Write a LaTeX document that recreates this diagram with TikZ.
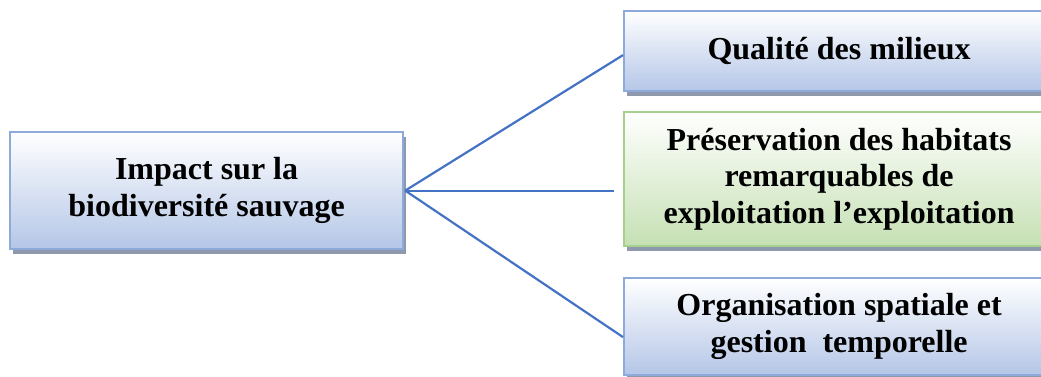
\documentclass[tikz,border=0pt]{standalone}
\usepackage{fontspec}
\setmainfont{Liberation Serif}
\usetikzlibrary{shadows}
\definecolor{bluebot}{HTML}{B4C6E7}
\definecolor{blueedge}{HTML}{8EAADB}
\definecolor{greenbot}{HTML}{C5E0B3}
\definecolor{greenedge}{HTML}{A8D08D}
\definecolor{shadowc}{HTML}{8E99AE}
\definecolor{linec}{HTML}{4472C4}
\tikzset{
  box/.style={rectangle, anchor=north west, line width=2.2pt, draw=blueedge,
    top color=white, bottom color=bluebot, align=center, inner sep=0pt,
    font=\fontsize{32}{36.5}\selectfont\bfseries,
    drop shadow={shadow xshift=3pt, shadow yshift=-5pt, fill=shadowc, opacity=1}},
  gbox/.style={box, draw=greenedge, bottom color=greenbot},
  link/.style={draw=linec, line width=2.2pt}
}
\begin{document}
\begin{tikzpicture}[x=1pt,y=-1pt]
\useasboundingbox (0,0) rectangle (1041,376);
\clip (0,0) rectangle (1041,376);
\node[box, minimum width=393pt, minimum height=117pt] (L) at (9,131)
  {Impact sur la\\biodiversité sauvage};
\node[box, minimum width=430pt, minimum height=80pt] (T) at (623,10)
  {Qualité des milieux};
\node[gbox, minimum width=430pt, minimum height=134pt] (M) at (623,111)
  {Préservation des habitats\\remarquables de\\exploitation l’exploitation};
\node[box, minimum width=430pt, minimum height=97pt] (B) at (623,277)
  {Organisation spatiale et\\gestion\ \ temporelle};
\coordinate (s) at ([xshift=1pt]L.east);
\coordinate (tEnd) at ([yshift=-4pt]T.west);
\coordinate (mEnd) at ([xshift=-9pt]M.west);
\coordinate (bEnd) at ([yshift=-10.5pt]B.west);
\draw[link] (s) -- (tEnd);
\draw[link] (s) -- (mEnd |- s);
\draw[link] (s) -- (bEnd);
\end{tikzpicture}
\end{document}
